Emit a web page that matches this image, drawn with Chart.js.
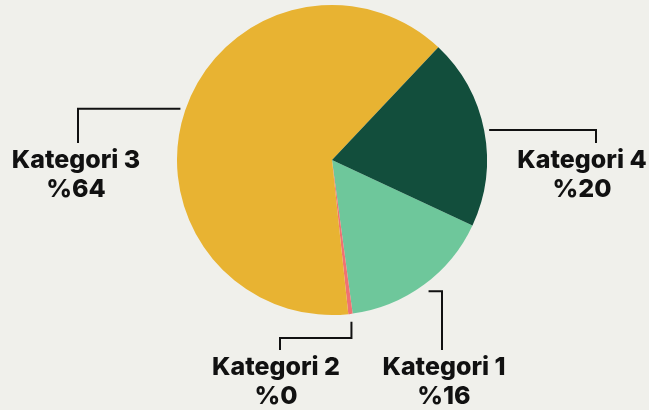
<!DOCTYPE html>
<html>
<head>
<meta charset="utf-8">
<script src="https://cdn.jsdelivr.net/npm/chart.js@4.4.0/dist/chart.umd.min.js"></script>
<style>
  html, body { margin: 0; padding: 0; background: #f0f0eb; }
  #wrap { width: 649px; height: 410px; }
</style>
</head>
<body>
<div id="wrap"><canvas id="pie" width="649" height="410"></canvas></div>
<script>
var categories = ["Kategori 1", "Kategori 2", "Kategori 3", "Kategori 4"];
var values = [16, 0.45, 64, 20];
var colors = ["#6ec79b", "#f07272", "#e8b332", "#124e3c"];

// callout layout per slice: path steps go to cx+n ("x") or cy+n ("y")
var callouts = [
	{ gap: 8, path: [["x", 110], ["y", 190]], textDx: 2 },
	{ gap: 8, path: [["y", 178], ["x", -52], ["y", 190]], textDx: -4 },
	{ gap: 5, path: [["x", -254], ["y", -17]], textDx: -2 },
	{ gap: 5, path: [["x", 264], ["y", -17]], textDx: -14 }
];

var total = values.reduce(function (a, b) { return a + b; }, 0);

var calloutPlugin = {
	id: "callouts",
	afterDatasetsDraw: function (chart) {
		var ctx = chart.ctx;
		var meta = chart.getDatasetMeta(0);
		ctx.save();
		ctx.strokeStyle = "#111111";
		ctx.lineWidth = 2;
		ctx.fillStyle = "#111111";
		ctx.font = "800 25px Inter, Lato, sans-serif";
		ctx.textAlign = "center";
		ctx.textBaseline = "alphabetic";
		meta.data.forEach(function (arc, i) {
			var p = arc.getProps(["x", "y", "startAngle", "endAngle", "outerRadius"], true);
			var c = callouts[i];
			var mid = (p.startAngle + p.endAngle) / 2;
			var x = p.x + Math.cos(mid) * (p.outerRadius + c.gap);
			var y = p.y + Math.sin(mid) * (p.outerRadius + c.gap);
			ctx.beginPath();
			ctx.moveTo(x, y);
			c.path.forEach(function (s) {
				if (s[0] == "x") { x = p.x + s[1]; } else { y = p.y + s[1]; }
				ctx.lineTo(x, y);
			});
			ctx.stroke();
			var pct = Math.round(values[i] / total * 100);
			ctx.fillText(categories[i], x + c.textDx, y + 25);
			ctx.fillText("%" + pct, x + c.textDx, y + 54);
		});
		ctx.restore();
	}
};

new Chart(document.getElementById("pie"), {
	type: "pie",
	data: {
		labels: categories,
		datasets: [{
			data: values,
			backgroundColor: colors,
			borderWidth: 0
		}]
	},
	options: {
		responsive: false,
		devicePixelRatio: 1,
		animation: false,
		rotation: 115,
		layout: { padding: { left: 15, right: 0, top: 5, bottom: 95 } },
		plugins: {
			legend: { display: false },
			tooltip: { enabled: false }
		}
	},
	plugins: [calloutPlugin]
});
</script>
</body>
</html>
